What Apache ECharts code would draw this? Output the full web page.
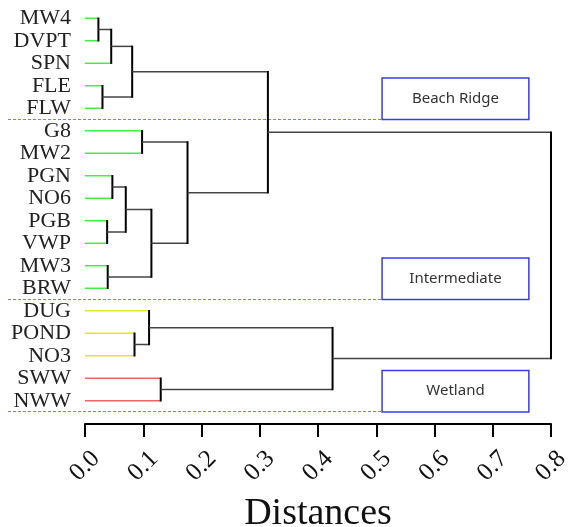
<!DOCTYPE html>
<html>
<head>
<meta charset="utf-8">
<script src="https://cdn.jsdelivr.net/npm/echarts@6/dist/echarts.min.js"></script>
<style>
  html, body { margin: 0; padding: 0; background: #fff; }
  #chart { width: 569px; height: 527px; }
</style>
</head>
<body>
<div id="chart"></div>
<script>
// leaves, top to bottom
const leaves = ['MW4', 'DVPT', 'SPN', 'FLE', 'FLW', 'G8', 'MW2', 'PGN', 'NO6', 'PGB', 'VWP', 'MW3', 'BRW', 'DUG', 'POND', 'NO3', 'SWW', 'NWW']
// branch colour group of each leaf
const leafCluster = [0, 0, 0, 0, 0, 0, 0, 0, 0, 0, 0, 0, 0, 1, 1, 1, 2, 2]
// merges: [left node, right node, distance], leaves are 0..17, merge k is node 18 + k
const merges = [
  [0, 1, 0.023],
  [18, 2, 0.045],
  [3, 4, 0.030],
  [19, 20, 0.081],
  [5, 6, 0.098],
  [7, 8, 0.047],
  [9, 10, 0.038],
  [23, 24, 0.070],
  [11, 12, 0.039],
  [25, 26, 0.114],
  [22, 27, 0.176],
  [21, 28, 0.314],
  [14, 15, 0.085],
  [13, 30, 0.110],
  [16, 17, 0.130],
  [31, 32, 0.425],
  [29, 33, 0.800]
]
// site groups and how many leaves each one holds
const groupNames = ['Beach Ridge', 'Intermediate', 'Wetland']
const groupSizes = [5, 8, 5]
const xMin = 0
const xMax = 0.8
const xStep = 0.1

const clusterColors = ['#44ee44', '#e6e622', '#f06464']
const serif = 'Liberation Serif'

// node positions: leaves sit in the middle of their row, merges halfway between children
const nodeY = leaves.map((_, i) => i + 0.5)
const nodeH = leaves.map(() => 0)
merges.forEach(([a, b, d]) => {
  nodeY.push((nodeY[a] + nodeY[b]) / 2)
  nodeH.push(d)
})

const groupEnds = []
groupSizes.reduce((acc, n) => { groupEnds.push(acc + n); return acc + n }, 0)

const chart = echarts.init(document.getElementById('chart'))

const option = {
  animation: false,
  grid: { left: 85, right: 18, top: 7, bottom: 115, outerBoundsMode: 'none', containLabel: false },
  xAxis: {
    type: 'value',
    position: 'bottom',
    min: xMin,
    max: xMax,
    interval: xStep,
    offset: 12,
    axisLine: { show: true, onZero: false, lineStyle: { color: '#000', width: 2 } },
    axisTick: { show: true, length: 13, lineStyle: { color: '#000', width: 2 } },
    splitLine: { show: false },
    axisLabel: {
      rotate: 45,
      align: 'center',
      verticalAlign: 'middle',
      margin: 42,
      fontFamily: serif,
      fontSize: 25,
      color: '#111',
      formatter: v => v.toFixed(1)
    },
    name: 'Distances',
    nameLocation: 'middle',
    nameGap: 71,
    nameTextStyle: { fontFamily: serif, fontSize: 38, color: '#111' }
  },
  yAxis: [
    {
      type: 'category',
      data: leaves,
      inverse: true,
      axisLine: { show: false },
      axisTick: { show: false },
      splitLine: { show: false },
      axisLabel: { interval: 0, margin: 14, fontFamily: serif, fontSize: 22, color: '#222' }
    },
    {
      type: 'value',
      min: 0,
      max: leaves.length,
      inverse: true,
      show: false
    }
  ],
  series: [
    {
      // group separators and labelled boxes
      type: 'custom',
      yAxisIndex: 1,
      data: groupEnds.map((end, i) => [xMin, end, i]),
      renderItem(params, api) {
        const end = groupEnds[params.dataIndex]
        const tl = api.coord([0.51, end - 1.85])
        const br = api.coord([0.762, end])
        const yLine = Math.round(br[1]) - 0.5
        return {
          type: 'group',
          children: [
            {
              type: 'line',
              shape: { x1: 8, y1: yLine, x2: tl[0], y2: yLine },
              style: { stroke: '#7a7aff', lineWidth: 1, lineDash: [3, 2] }
            },
            {
              type: 'rect',
              shape: { x: tl[0], y: tl[1], width: br[0] - tl[0], height: br[1] - tl[1] },
              style: { fill: '#fff', stroke: '#3a3af0', lineWidth: 1.5 }
            },
            {
              type: 'text',
              style: {
                x: (tl[0] + br[0]) / 2,
                y: (tl[1] + br[1]) / 2,
                text: groupNames[params.dataIndex],
                align: 'center',
                verticalAlign: 'middle',
                fontFamily: 'Noto Sans',
                fontSize: 15,
                fill: '#333'
              }
            }
          ]
        }
      }
    },
    {
      // dendrogram branches
      type: 'custom',
      yAxisIndex: 1,
      data: merges.map((m, k) => [m[2], nodeY[leaves.length + k]]),
      renderItem(params, api) {
        const [a, b, d] = merges[params.dataIndex]
        const arm = n => {
          const p = api.coord([nodeH[n], nodeY[n]])
          const q = api.coord([d, nodeY[n]])
          const isLeaf = n < leaves.length
          return {
            type: 'line',
            shape: { x1: p[0], y1: p[1], x2: q[0], y2: q[1] },
            style: { stroke: isLeaf ? clusterColors[leafCluster[n]] : '#444', lineWidth: 1.5 }
          }
        }
        const qa = api.coord([d, nodeY[a]])
        const qb = api.coord([d, nodeY[b]])
        return {
          type: 'group',
          children: [
            arm(a),
            arm(b),
            {
              type: 'line',
              shape: { x1: qa[0], y1: qa[1] - 0.75, x2: qb[0], y2: qb[1] + 0.75 },
              style: { stroke: '#000', lineWidth: 2 }
            }
          ]
        }
      }
    }
  ]
}

chart.setOption(option)
</script>
</body>
</html>
